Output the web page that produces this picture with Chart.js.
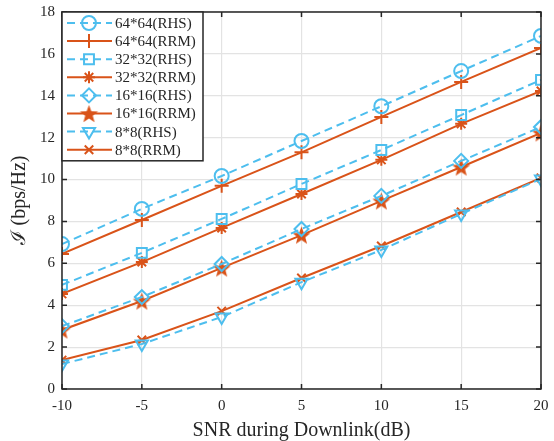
<!DOCTYPE html>
<html>
<head>
<meta charset="utf-8">
<script src="https://cdn.jsdelivr.net/npm/chart.js@4.4.1/dist/chart.umd.min.js"></script>
<style>
  body { margin: 0; background: #fff; }
  #wrap { width: 554px; height: 441px; }
</style>
</head>
<body>
<div id="wrap"><canvas id="myChart"></canvas></div>
<script>
// data
const snr = [-10, -5, 0, 5, 10, 15, 20];
const rhs64 = [6.92, 8.6, 10.17, 11.84, 13.5, 15.18, 16.86];
const rrm64 = [6.45, 8.07, 9.7, 11.3, 12.99, 14.66, 16.28];
const rhs32 = [4.97, 6.5, 8.12, 9.79, 11.41, 13.08, 14.76];
const rrm32 = [4.54, 6.06, 7.69, 9.31, 10.94, 12.66, 14.23];
const rhs16 = [3.0, 4.39, 5.97, 7.64, 9.22, 10.89, 12.51];
const rrm16 = [2.82, 4.2, 5.78, 7.35, 8.98, 10.6, 12.23];
const rhs8 = [1.19, 2.15, 3.44, 5.1, 6.64, 8.36, 10.03];
const rrm8 = [1.38, 2.34, 3.72, 5.3, 6.83, 8.45, 10.08];
const yTicks = [0, 2, 4, 6, 8, 10, 12, 14, 16, 18];

const blue = "#4DBEEE";
const orange = "#D95319";
const serif = "'Liberation Serif', 'Times New Roman', serif";

// filled pentagram marker
function makePentagram(size, color) {
  const c = document.createElement("canvas");
  c.width = size;
  c.height = size;
  const g = c.getContext("2d");
  const cx = size / 2, cy = size / 2 + 1;
  const R = size / 2 - 1, r = R * 0.42;
  g.beginPath();
  for (let i = 0; i < 10; i++) {
    const rad = i % 2 === 0 ? R : r;
    const a = -Math.PI / 2 + (i * Math.PI) / 5;
    const px = cx + rad * Math.cos(a);
    const py = cy + rad * Math.sin(a);
    if (i === 0) g.moveTo(px, py);
    else g.lineTo(px, py);
  }
  g.closePath();
  g.fillStyle = color;
  g.fill();
  return c;
}
const pentagram = makePentagram(21, orange);

function toXY(arr) {
  return arr.map((v, i) => ({ x: snr[i], y: v }));
}

function rhsSet(label, arr, style, radius, rotation) {
  return {
    label: label,
    data: toXY(arr),
    borderColor: blue,
    backgroundColor: "rgba(0,0,0,0)",
    borderWidth: 2,
    borderDash: [8, 5],
    pointStyle: style,
    pointRadius: radius,
    pointRotation: rotation || 0,
    pointBorderColor: blue,
    pointBackgroundColor: "rgba(0,0,0,0)",
    pointBorderWidth: 2,
  };
}

function rrmSet(label, arr, style, radius) {
  return {
    label: label,
    data: toXY(arr),
    borderColor: orange,
    backgroundColor: "rgba(0,0,0,0)",
    borderWidth: 2,
    pointStyle: style,
    pointRadius: radius,
    pointBorderColor: orange,
    pointBackgroundColor: orange,
    pointBorderWidth: 2,
  };
}

const datasets = [
  rhsSet("64*64(RHS)", rhs64, "circle", 7),
  rrmSet("64*64(RRM)", rrm64, "cross", 7),
  rhsSet("32*32(RHS)", rhs32, "rect", 7),
  rrmSet("32*32(RRM)", rrm32, "star", 6),
  rhsSet("16*16(RHS)", rhs16, "rectRot", 7),
  rrmSet("16*16(RRM)", rrm16, pentagram, 10),
  rhsSet("8*8(RHS)", rhs8, "triangle", 7, 180),
  rrmSet("8*8(RRM)", rrm8, "crossRot", 6),
];

// box around the plot with inward ticks, like MATLAB
const framePlugin = {
  id: "frame",
  afterDraw(chart) {
    const ctx = chart.ctx;
    const a = chart.chartArea;
    const xs = chart.scales.x, ys = chart.scales.y;
    ctx.save();
    ctx.strokeStyle = "#262626";
    ctx.lineWidth = 1.5;
    ctx.strokeRect(a.left, a.top, a.right - a.left, a.bottom - a.top);
    ctx.beginPath();
    snr.forEach((v) => {
      const px = xs.getPixelForValue(v);
      ctx.moveTo(px, a.bottom);
      ctx.lineTo(px, a.bottom - 5);
      ctx.moveTo(px, a.top);
      ctx.lineTo(px, a.top + 5);
    });
    yTicks.forEach((v) => {
      const py = ys.getPixelForValue(v);
      ctx.moveTo(a.left, py);
      ctx.lineTo(a.left + 5, py);
      ctx.moveTo(a.right, py);
      ctx.lineTo(a.right - 5, py);
    });
    ctx.stroke();
    ctx.restore();
  },
};

// legend box with line + marker samples
const legendPlugin = {
  id: "boxLegend",
  afterDraw(chart) {
    const ctx = chart.ctx;
    const a = chart.chartArea;
    const x0 = a.left, y0 = a.top;
    const w = 141, rowH = 18.1, h = rowH * datasets.length + 4;
    ctx.save();
    ctx.fillStyle = "#fff";
    ctx.fillRect(x0, y0, w, h);
    ctx.strokeStyle = "#262626";
    ctx.lineWidth = 1.5;
    ctx.strokeRect(x0, y0, w, h);
    ctx.font = "15px " + serif;
    ctx.textBaseline = "middle";
    chart.data.datasets.forEach((ds, i) => {
      const cy = y0 + 11 + i * rowH;
      ctx.strokeStyle = ds.borderColor;
      ctx.lineWidth = 2;
      ctx.setLineDash(ds.borderDash || []);
      ctx.beginPath();
      ctx.moveTo(x0 + 5, cy);
      ctx.lineTo(x0 + 50, cy);
      ctx.stroke();
      ctx.setLineDash([]);
      ctx.fillStyle = ds.pointBackgroundColor;
      ctx.strokeStyle = ds.pointBorderColor;
      ctx.lineWidth = 2;
      Chart.helpers.drawPoint(ctx, {
        pointStyle: ds.pointStyle,
        radius: ds.pointRadius,
        rotation: ds.pointRotation || 0,
        borderWidth: 2,
      }, x0 + 27, cy);
      ctx.fillStyle = "#262626";
      ctx.fillText(ds.label, x0 + 53, cy + 1);
    });
    ctx.restore();
  },
};

const ctx = document.getElementById("myChart");

const chart = new Chart(ctx, {
  type: "line",
  data: { datasets: datasets },
  options: {
    responsive: true,
    maintainAspectRatio: false,
    animation: false,
    layout: { padding: { top: 12, right: 13, left: 0, bottom: 0 } },
    plugins: {
      legend: { display: false },
      tooltip: { enabled: false },
    },
    scales: {
      x: {
        type: "linear",
        min: -10,
        max: 20,
        afterBuildTicks: (scale) => {
          scale.ticks = snr.map((v) => ({ value: v }));
        },
        afterFit: (scale) => {
          scale.height = 52;
          scale.paddingLeft = 0;
          scale.paddingRight = 0;
        },
        grid: { color: "#e3e3e3", lineWidth: 1.2, drawTicks: false },
        border: { display: false },
        ticks: {
          color: "#262626",
          padding: 8,
          font: { family: serif, size: 15 },
        },
        title: {
          display: true,
          text: "SNR during Downlink(dB)",
          color: "#262626",
          padding: { bottom: -2 },
          font: { family: serif, size: 20 },
        },
      },
      y: {
        min: 0,
        max: 18,
        afterBuildTicks: (scale) => {
          scale.ticks = yTicks.map((v) => ({ value: v }));
        },
        afterFit: (scale) => {
          scale.width = 62;
          scale.paddingTop = 0;
          scale.paddingBottom = 0;
        },
        grid: { color: "#e3e3e3", lineWidth: 1.2, drawTicks: false },
        border: { display: false },
        ticks: {
          color: "#262626",
          padding: 7,
          font: { family: serif, size: 15 },
        },
        title: {
          display: true,
          text: "ℐ (bps/Hz)",
          color: "#262626",
          padding: { top: 8 },
          font: { family: serif, size: 20 },
        },
      },
    },
  },
  plugins: [framePlugin, legendPlugin],
});
</script>
</body>
</html>
